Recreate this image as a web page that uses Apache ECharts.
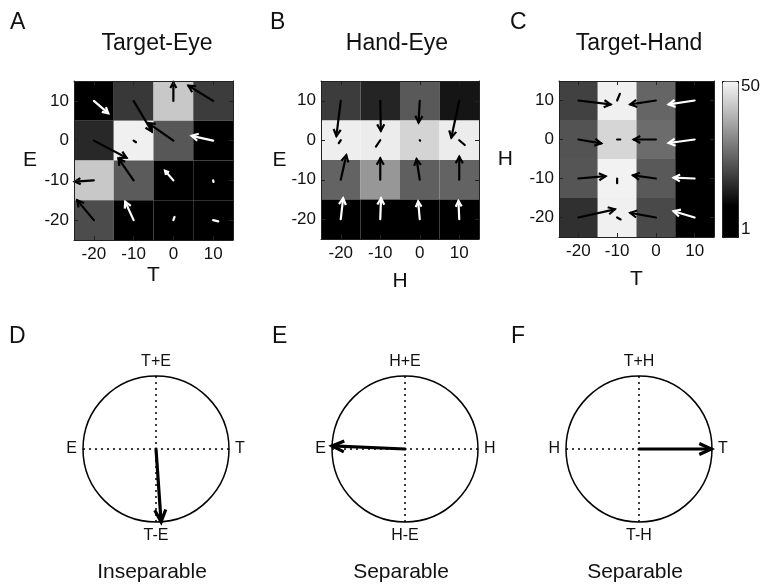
<!DOCTYPE html>
<html>
<head>
<meta charset="utf-8">
<script src="https://cdn.jsdelivr.net/npm/echarts@6/dist/echarts.min.js"></script>
<style>
html, body { margin: 0; padding: 0; background: #fff; }
#main { width: 773px; height: 584px; }
</style>
</head>
<body>
<div id="main"></div>
<script>
// tick values shared by the three maps (cell centres)
var ticks = [-20, -10, 0, 10];

// cell values 1..50, rows from top (10) to bottom (-20), columns -20..10
var cellsA = [
    [4, 19.3, 42.5, 20],
    [17, 49.2, 24.3, 3],
    [42.5, 25, 2, 5],
    [22.6, 6, 3, 4]
];
var cellsB = [
    [20, 16.3, 24.6, 14],
    [48.9, 48.5, 44.5, 48.5],
    [26.3, 34.6, 25.6, 26.3],
    [4, 5, 3, 4]
];
var cellsC = [
    [20.8, 49.2, 26.6, 5],
    [23.6, 44.9, 27.6, 4],
    [24, 49.5, 24.6, 3],
    [18.1, 49.2, 22, 4]
];

// quiver vectors [u, v] in axis units, same layout as the cells
var arrowsA = [
    [[3.6, -3.1], [4.6, -7.7], [0, 4.6], [-6.2, 3.8]],
    [[8.2, -4.3], [0.6, -0.4], [-6.3, 4.4], [-5.4, 1.2]],
    [[-4.8, -0.3], [-3.8, 5.5], [-2.1, 2.4], [0.1, -0.4]],
    [[-4.2, 5.0], [-2.1, 4.6], [0.3, 0.8], [1.3, -0.3]]
];
var arrowsB = [
    [[-1.1, -8.9], [0.15, -7.6], [-0.3, -5.5], [-2, -9.3]],
    [[-0.5, -0.7], [-1.1, -1.6], [0.1, -0.1], [1.4, -1.2]],
    [[1.4, 6.2], [0, 5.4], [-0.8, 5.2], [0, 5.8]],
    [[0.6, 5.3], [0.2, 5.3], [-0.4, 4.5], [-0.2, 4.6]]
];
var arrowsC = [
    [[8.3, -1.0], [0.7, 1.7], [-6.6, -1.0], [-6.7, -1.0]],
    [[5.9, -1.0], [0.8, 0], [-5.7, 0], [-6.7, -0.9]],
    [[7, 0.6], [0, -1.2], [-5.9, 0.8], [-5.4, 0.2]],
    [[9.4, 2.1], [0.9, -0.5], [-6.6, 1.2], [-5.4, 1.6]]
];

var mapTitles = ['Target-Eye', 'Hand-Eye', 'Target-Hand'];
var xNames = ['T', 'H', 'T'];
var yNames = ['E', 'E', 'H'];
var colorbarTicks = [1, 50];

// circle diagrams
var circleLabels = [
    ['T', 'T+E', 'E', 'T-E'],
    ['H', 'H+E', 'E', 'H-E'],
    ['T', 'T+H', 'H', 'T-H']
];
var circleArrowAngle = [274, 177.6, 0];
var circleArrowLength = [1, 1, 0.99];
var captions = ['Inseparable', 'Separable', 'Separable'];
var panelLetters = ['A', 'B', 'C', 'D', 'E', 'F'];

var FONT = '"Liberation Sans", Arial, sans-serif';
var INK = '#111';

var grids = [
    { left: 74, top: 81, width: 159, height: 159 },
    { left: 321, top: 81, width: 158, height: 158 },
    { left: 559, top: 81, width: 155, height: 156 },
    { left: 722, top: 81, width: 16, height: 156 }   // colorbar
];
var xNameGap = [25, 32, 32];
var yNameGap = [37, 34, 46];
var yNamePad = [[0, 0, 11, 0], [0, 0, 11, 0], [0, 0, 0, 0]];
var titleX = [157, 397, 639];
var letterX = [10, 270, 510, 9, 272, 511];
var polarCenters = [[156, 449], [405, 449], [639, 449]];

function buildCells(m) {
    var out = [];
    for (var r = 0; r < 4; r++) {
        for (var c = 0; c < 4; c++) {
            out.push([ticks[c], ticks[3 - r], m[r][c]]);
        }
    }
    return out;
}
function buildArrows(a, m) {
    var out = [];
    for (var r = 0; r < 4; r++) {
        for (var c = 0; c < 4; c++) {
            out.push([ticks[c], ticks[3 - r], a[r][c][0], a[r][c][1], m[r][c]]);
        }
    }
    return out;
}

function renderCell(params, api) {
    var x = api.value(0), y = api.value(1);
    var p0 = api.coord([x - 5, y + 5]);
    var p1 = api.coord([x + 5, y - 5]);
    return {
        type: 'rect',
        shape: { x: p0[0], y: p0[1], width: p1[0] - p0[0], height: p1[1] - p0[1] },
        style: { fill: api.visual('color') }
    };
}

function arrowShape(p0, p1, headLen, headHalf, color, width) {
    var dx = p1[0] - p0[0], dy = p1[1] - p0[1];
    var len = Math.sqrt(dx * dx + dy * dy) || 1;
    var ux = dx / len, uy = dy / len;
    var bx = p1[0] - ux * headLen, by = p1[1] - uy * headLen;
    var children = [{
        type: 'line',
        shape: { x1: p0[0], y1: p0[1], x2: p1[0], y2: p1[1] },
        style: { stroke: color, lineWidth: width, lineCap: 'round' }
    }];
    if (headLen > 1) {
        children.push({
            type: 'polyline',
            shape: { points: [[bx - uy * headHalf, by + ux * headHalf], [p1[0], p1[1]], [bx + uy * headHalf, by - ux * headHalf]] },
            style: { stroke: color, lineWidth: width, fill: null, lineJoin: 'miter' }
        });
    }
    return { type: 'group', children: children };
}

function renderQuiver(params, api) {
    var x = api.value(0), y = api.value(1);
    var p0 = api.coord([x, y]);
    var p1 = api.coord([x + api.value(2), y + api.value(3)]);
    var dx = p1[0] - p0[0], dy = p1[1] - p0[1];
    var len = Math.sqrt(dx * dx + dy * dy);
    var color = api.value(4) < 12 ? '#ffffff' : '#000000';
    var h = len > 10 ? Math.min(6.5, len * 0.3) : 0;
    return arrowShape(p0, p1, h, h * 0.55, color, 2.2);
}

function renderPolarArrow(params, api) {
    var tail = api.coord([0, api.value(1)]);
    var tip = api.coord([api.value(0), api.value(1)]);
    return arrowShape(tail, tip, 12, 5.5, '#000', 3.2);
}

var cellSets = [cellsA, cellsB, cellsC];
var arrowSets = [arrowsA, arrowsB, arrowsC];

var xAxes = [], yAxes = [], series = [], titles = [];
var axisLineStyle = { color: '#222', width: 1 };

for (var i = 0; i < 3; i++) {
    var common = {
        gridIndex: i, type: 'value', min: -25, max: 15, z: 5,
        axisLine: { show: true, onZero: false, lineStyle: axisLineStyle },
        axisTick: { show: true, inside: true, length: 4, customValues: ticks, lineStyle: axisLineStyle },
        splitLine: { show: false }
    };
    xAxes.push(Object.assign({}, common, {
        position: 'bottom',
        axisLabel: { customValues: ticks, fontSize: 17, color: INK, margin: 6 },
        name: xNames[i], nameLocation: 'middle', nameGap: xNameGap[i],
        nameTextStyle: { fontSize: 21, color: INK }
    }));
    xAxes.push(Object.assign({}, common, { position: 'top', axisLabel: { show: false } }));
    yAxes.push(Object.assign({}, common, {
        position: 'left',
        axisLabel: { customValues: ticks, fontSize: 17, color: INK, margin: 5 },
        name: yNames[i], nameLocation: 'middle', nameGap: yNameGap[i], nameRotate: 0,
        nameTextStyle: { fontSize: 21, color: INK, padding: yNamePad[i] }
    }));
    yAxes.push(Object.assign({}, common, { position: 'right', axisLabel: { show: false } }));

    series.push({
        type: 'custom', xAxisIndex: i * 2, yAxisIndex: i * 2,
        renderItem: renderCell, data: buildCells(cellSets[i]), silent: true
    });
    series.push({
        type: 'custom', xAxisIndex: i * 2, yAxisIndex: i * 2, z: 3,
        renderItem: renderQuiver, data: buildArrows(arrowSets[i], cellSets[i]), silent: true
    });
    titles.push({
        text: mapTitles[i], left: titleX[i], top: 32, textAlign: 'center', padding: 0,
        textStyle: { fontSize: 23, fontWeight: 'normal', color: INK }
    });
}

// colorbar axis (labels only)
xAxes.push({ gridIndex: 3, type: 'value', show: false });
yAxes.push({
    gridIndex: 3, type: 'value', position: 'right', min: -1.8, max: 52,
    axisLine: { show: false }, axisTick: { show: false }, splitLine: { show: false },
    axisLabel: { customValues: colorbarTicks, fontSize: 17, color: INK, margin: 3 }
});

// panel letters and captions
for (var k = 0; k < 6; k++) {
    titles.push({
        text: panelLetters[k], left: letterX[k], top: k < 3 ? 11 : 325, padding: 0,
        textStyle: { fontSize: 23, fontWeight: 'normal', color: INK }
    });
}
var polars = [], angleAxes = [], radiusAxes = [];
for (var j = 0; j < 3; j++) {
    titles.push({
        text: captions[j], left: polarCenters[j][0] - 4, top: 562, textAlign: 'center', padding: 0,
        textStyle: { fontSize: 21, fontWeight: 'normal', color: INK }
    });
    polars.push({ center: polarCenters[j], radius: 73 });
    (function (labels) {
        angleAxes.push({
            polarIndex: j, type: 'value', min: 0, max: 360, interval: 90,
            startAngle: 0, clockwise: false,
            axisLine: { lineStyle: { color: '#000', width: 1.5 } },
            axisTick: { show: false },
            splitLine: { show: true, lineStyle: { color: '#000', width: 1.5, type: [2, 4] } },
            axisLabel: {
                margin: 6, fontSize: 16, color: INK,
                formatter: function (v) { return v >= 360 ? '' : labels[Math.round(v / 90)]; }
            }
        });
    })(circleLabels[j]);
    radiusAxes.push({ polarIndex: j, type: 'value', min: 0, max: 1, show: false });
    series.push({
        type: 'custom', coordinateSystem: 'polar', polarIndex: j, silent: true,
        renderItem: renderPolarArrow,
        data: [[circleArrowLength[j], circleArrowAngle[j]]]
    });
}

var chart = echarts.init(document.getElementById('main'));
chart.setOption({
    animation: false,
    backgroundColor: '#fff',
    textStyle: { fontFamily: FONT },
    title: titles,
    grid: grids,
    xAxis: xAxes,
    yAxis: yAxes,
    polar: polars,
    angleAxis: angleAxes,
    radiusAxis: radiusAxes,
    visualMap: {
        type: 'continuous', min: 1, max: 50, dimension: 2, seriesIndex: [0, 2, 4],
        calculable: false, left: 722, top: 81, itemWidth: 16, itemHeight: 156,
        padding: 0, borderColor: '#000', borderWidth: 1, text: null,
        inRange: { color: ['#000000', '#000000', '#404040', '#7d7d7d', '#bababa', '#f5f5f5'] }
    },
    series: series
});
</script>
</body>
</html>
